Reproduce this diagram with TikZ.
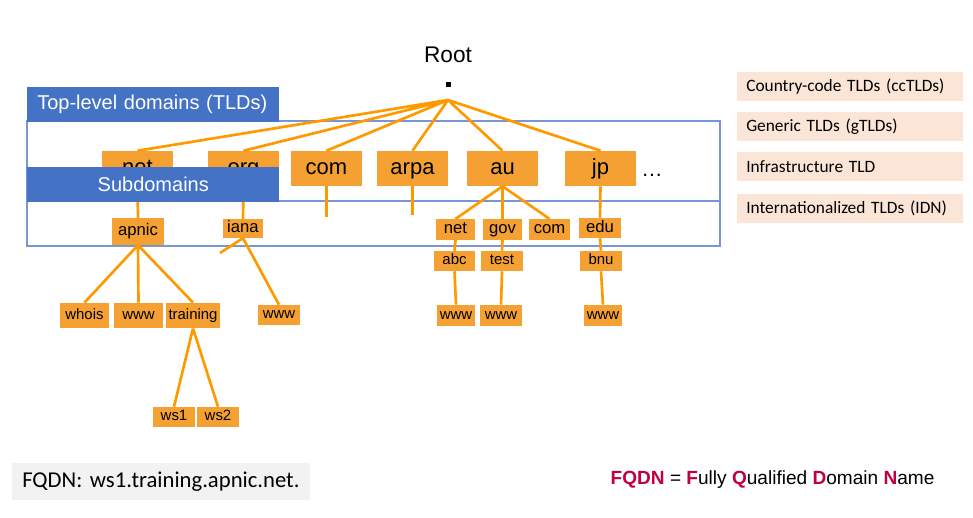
\documentclass[tikz,border=0pt]{standalone}
\usepackage{fontspec}
\setmainfont{Liberation Sans}
\newfontfamily\calibri{Carlito}
\frenchspacing
\definecolor{boxorange}{RGB}{245,160,50}
\definecolor{lineorange}{RGB}{255,153,0}
\definecolor{lblblue}{RGB}{68,114,196}
\definecolor{frameblue}{RGB}{118,150,212}
\definecolor{peach}{RGB}{251,229,214}
\definecolor{lightgray}{RGB}{242,242,242}
\definecolor{fqdnred}{RGB}{192,0,64}
\begin{document}
\begin{tikzpicture}[x=0.75pt,y=-0.75pt,
		link/.style={draw=lineorange,line width=2pt},
		frame/.style={draw=frameblue,line width=1pt},
		lbl/.style={fill=lblblue,text=white,font=\fontsize{15}{18}\selectfont,inner sep=0pt,minimum height=26.25pt},
		tld/.style={fill=boxorange,font=\fontsize{16.5}{18}\selectfont,text height=11.9pt,text depth=3.3pt,minimum width=53.25pt,minimum height=26.25pt,inner sep=0pt},
		mid/.style={fill=boxorange,font=\fontsize{12.5}{14}\selectfont,text height=9pt,text depth=2.5pt,minimum width=29pt,minimum height=15.5pt,inner xsep=3.5pt,inner ysep=0pt},
		leaf/.style={fill=boxorange,font=\fontsize{11.2}{13}\selectfont,text height=8pt,text depth=2.2pt,minimum width=31pt,minimum height=15pt,inner xsep=2pt,inner ysep=0pt},
		legend/.style={fill=peach,font=\calibri\fontsize{13}{15}\selectfont,text width=156pt,inner xsep=6.75pt,align=left,minimum height=21.75pt,anchor=west}]
	\useasboundingbox (0,0) rectangle (973,517);
	% frames
	\draw[frame] (27,121) rectangle (720,201);
	\draw[frame] (27,201) rectangle (720,246);
	\node[lbl,anchor=north west,text width=174pt,inner xsep=7.5pt,align=left] (tldlbl) at (27,87) {Top-level domains (TLDs)};
	% root
	\node[font=\fontsize{17}{20}\selectfont] (root) at (448,55) {Root};
	\node[fill=black,inner sep=0pt,minimum size=3.75pt] (rootdot) at (448,84) {};
	\coordinate (rootpt) at (448,100);
	% top-level domains
	\node[tld] (net) at (137.5,168.5) {net};
	\node[tld] (org) at (243.5,168.5) {org};
	\node[tld] (com) at (326.5,168.5) {com};
	\node[tld] (arpa) at (412.5,168.5) {arpa};
	\node[tld] (au) at (502.5,168.5) {au};
	\node[tld] (jp) at (600.5,168.5) {jp};
	\node[font=\fontsize{16}{18}\selectfont] (more) at (652,175) {\ldots};
	\draw[link] (rootpt) -- (net.north) (rootpt) -- (org.north) (rootpt) -- (com.north) (rootpt) -- (arpa.north) (rootpt) -- (au.north) (rootpt) -- (jp.north);
	% second level
	\node[mid,minimum width=39pt,minimum height=20pt] (apnic) at (138,231.5) {apnic};
	\node[mid,minimum height=14pt] (iana) at (243,228.5) {iana};
	\node[mid] (aunet) at (455.5,229.5) {net};
	\node[mid] (augov) at (502.5,229.5) {gov};
	\node[mid] (aucom) at (549.5,229.5) {com};
	\node[mid,minimum width=31.5pt,minimum height=15pt] (edu) at (600,228) {edu};
	\coordinate (comend) at (326.5,217);
	\coordinate (arpaend) at (412.5,215);
	\coordinate (ianastub) at (220,253);
	\draw[link] (net.south) -- (apnic.north) (org.south) -- (iana.north);
	\draw[link] (com.south) -- (comend) (arpa.south) -- (arpaend);
	\draw[link] (au.south) -- (aunet.north) (au.south) -- (augov.north) (au.south) -- (aucom.north) (jp.south) -- (edu.north);
	\node[lbl,anchor=north west,minimum width=189pt] (sublbl) at (27,167) {Subdomains};
	% third level
	\node[leaf] (abc) at (454.5,261) {abc};
	\node[leaf] (test) at (502,261) {test};
	\node[leaf] (bnu) at (601,261) {bnu};
	\node[leaf,minimum width=27pt,minimum height=16pt] (wwwabc) at (456,315.5) {www};
	\node[leaf,minimum height=16pt] (wwwtest) at (501,315.5) {www};
	\node[leaf,minimum width=28.5pt,minimum height=16pt] (wwwbnu) at (603,315.5) {www};
	\node[leaf,minimum width=37pt,minimum height=19pt] (whois) at (84.5,315.5) {whois};
	\node[leaf,minimum width=37pt,minimum height=19pt] (wwwapnic) at (138.5,315.5) {www};
	\node[leaf,minimum width=39pt,minimum height=19pt] (training) at (193,315.5) {training};
	\node[leaf] (wwwiana) at (279,315) {www};
	\node[leaf] (ws1) at (174,417) {ws1};
	\node[leaf] (ws2) at (218,417) {ws2};
	\draw[link] (aunet.south) -- (abc.north) (abc.south) -- (wwwabc.north);
	\draw[link] (augov.south) -- (test.north) (test.south) -- (wwwtest.north);
	\draw[link] (edu.south) -- (bnu.north) (bnu.south) -- (wwwbnu.north);
	\draw[link] (apnic.south) -- (whois.north) (apnic.south) -- (wwwapnic.north) (apnic.south) -- (training.north);
	\draw[link] (iana.south) -- (wwwiana.north) (iana.south) -- (ianastub);
	\draw[link] (training.south) -- (ws1.north) (training.south) -- (ws2.north);
	% legend
	\node[legend] (cctld) at (737,86.5) {Country-code TLDs (ccTLDs)};
	\node[legend] (gtld) at (737,126.5) {Generic TLDs (gTLDs)};
	\node[legend] (infra) at (737,166.5) {Infrastructure TLD};
	\node[legend] (idn) at (737,208.5) {Internationalized TLDs (IDN)};
	% bottom
	\node[fill=lightgray,font=\calibri\fontsize{17}{20}\selectfont,text width=208.5pt,inner xsep=7.5pt,align=left,minimum height=27.75pt,anchor=west] (example) at (12,481.5) {FQDN: ws1.training.apnic.net.};
	\node[font=\fontsize{14.3}{17}\selectfont,anchor=west] (meaning) at (606,480) {\textcolor{fqdnred}{\bfseries FQDN} = \textcolor{fqdnred}{\bfseries F}ully \textcolor{fqdnred}{\bfseries Q}ualified \textcolor{fqdnred}{\bfseries D}omain \textcolor{fqdnred}{\bfseries N}ame};
\end{tikzpicture}
\end{document}
